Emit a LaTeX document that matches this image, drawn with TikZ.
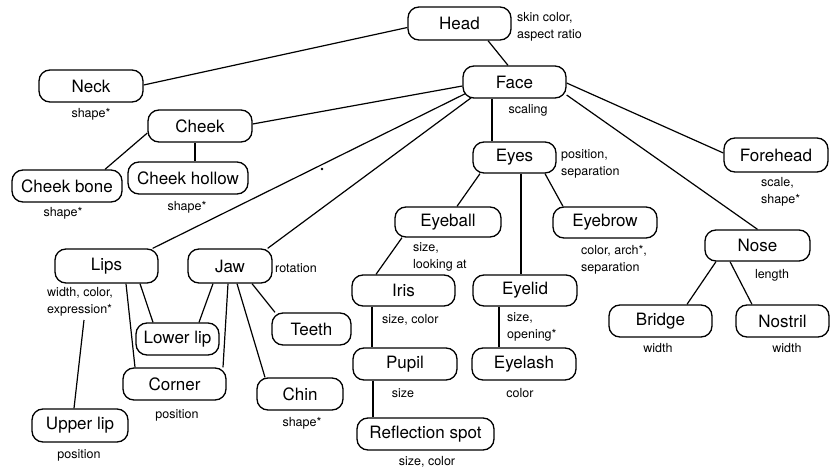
\documentclass[tikz,border=0pt]{standalone}
\usepackage{fontspec}
\setmainfont{TeX Gyre Heros}
\pgfdeclarelayer{bg}
\pgfsetlayers{bg,main}
\tikzset{
  box/.style={draw, fill=white, rounded corners=11pt, line width=1.3pt, inner sep=0pt,
    font=\fontsize{17}{20}\selectfont},
  lab/.style={inner sep=0pt, align=left, font=\fontsize{12.5}{17}\selectfont},
  conn/.style={line width=1.2pt}
}
\begin{document}
\begin{tikzpicture}[x=1pt,y=-1pt]
\useasboundingbox (0,0) rectangle (831,471);
% nodes
\node[box, minimum width=103pt, minimum height=33pt] (head) at (459.5,23.5) {Head};
\node[box, minimum width=103pt, minimum height=32pt] (face) at (514.5,82) {Face};
\node[box, minimum width=83pt, minimum height=31pt] (eyes) at (514.5,157.5) {Eyes};
\node[box, minimum width=104pt, minimum height=34pt] (forehead) at (776,155) {Forehead};
\node[box, minimum width=104pt, minimum height=32pt] (neck) at (91,86) {Neck};
\node[box, minimum width=104pt, minimum height=32pt] (cheek) at (200,126) {Cheek};
\node[box, minimum width=110pt, minimum height=32pt] (cheekbone) at (67,186) {Cheek bone};
\node[box, minimum width=120pt, minimum height=32pt] (cheekhollow) at (188,178) {Cheek hollow};
\node[box, minimum width=106pt, minimum height=30pt] (eyeball) at (448,222) {Eyeball};
\node[box, minimum width=104pt, minimum height=31pt] (eyebrow) at (605,222.5) {Eyebrow};
\node[box, minimum width=105pt, minimum height=31pt] (nose) at (757.5,245.5) {Nose};
\node[box, minimum width=103pt, minimum height=32pt] (bridge) at (660.5,321) {Bridge};
\node[box, minimum width=93pt, minimum height=32pt] (nostril) at (782.5,321) {Nostril};
\node[box, minimum width=103pt, minimum height=31pt] (iris) at (403.5,290.5) {Iris};
\node[box, minimum width=104pt, minimum height=32pt] (pupil) at (405,364) {Pupil};
\node[box, minimum width=137pt, minimum height=32pt] (reflection) at (425.5,434) {Reflection spot};
\node[box, minimum width=104pt, minimum height=31pt] (eyelid) at (525,290.5) {Eyelid};
\node[box, minimum width=104pt, minimum height=32pt] (eyelash) at (524,364) {Eyelash};
\node[box, minimum width=103pt, minimum height=34pt] (lips) at (106.5,266) {Lips};
\node[box, minimum width=84pt, minimum height=34pt] (jaw) at (230,266) {Jaw};
\node[box, minimum width=83pt, minimum height=32pt] (lowerlip) at (177.5,339) {Lower lip};
\node[box, minimum width=79pt, minimum height=32pt] (teeth) at (311.5,329) {Teeth};
\node[box, minimum width=103pt, minimum height=32pt] (corner) at (174.5,384) {Corner};
\node[box, minimum width=86pt, minimum height=32pt] (chin) at (300,394) {Chin};
\node[box, minimum width=96pt, minimum height=33pt] (upperlip) at (80,425.5) {Upper lip};
% labels
\node[lab, anchor=west] (headl) at (517,26.5) {skin color,\\aspect ratio};
\node[lab] (facel) at (528,110) {scaling};
\node[lab, anchor=west] (eyesl) at (561,163.5) {position,\\separation};
\node[lab, anchor=west] (foreheadl) at (761,191.5) {scale,\\shape*};
\node[lab, anchor=west] (eyeballl) at (413,257) {size,\\looking at};
\node[lab, anchor=west] (eyebrowl) at (581,260) {color, arch*,\\separation};
\node[lab] (nosel) at (772,275) {length};
\node[lab] (bridgel) at (658,348) {width};
\node[lab] (nostrill) at (787,348) {width};
\node[lab, anchor=west] (irisl) at (382,320) {size, color};
\node[lab, anchor=west] (eyelidl) at (507,326.5) {size,\\opening*};
\node[lab] (pupill) at (403,393) {size};
\node[lab] (eyelashl) at (520,393) {color};
\node[lab] (reflectionl) at (427,462) {size, color};
\node[lab] (neckl) at (91,114) {shape*};
\node[lab] (cheekbonel) at (63,213) {shape*};
\node[lab] (cheekhollowl) at (187,207) {shape*};
\node[lab, anchor=west] (lipsl) at (47,301.5) {width, color,\\expression*};
\node[lab, anchor=west] (jawl) at (275,268) {rotation};
\node[lab] (cornerl) at (177,415) {position};
\node[lab] (chinl) at (302,423) {shape*};
\node[lab] (upperlipl) at (79,455) {position};
\coordinate (ulstart) at (84,320);
\fill (322,169) circle (1.3pt);
% connectors
\begin{pgfonlayer}{bg}
\draw[conn] ([xshift=28.5pt]head.south) -- ([xshift=-6.5pt]face.north);
\draw[conn] ([yshift=-4pt]head.west) -- ([yshift=1pt]neck.east);
\draw[conn] ([yshift=-4pt]face.west) -- ([yshift=2pt]cheek.east);
\draw[conn] ([xshift=3pt,yshift=5pt]face.south west) -- ([xshift=-6pt]lips.north east);
\draw[conn] ([xshift=9pt,yshift=1pt]face.south west) -- ([xshift=-5pt]jaw.north east);
\draw[conn] ([xshift=-22.5pt]face.south) -- ([xshift=-22.5pt]eyes.north);
\draw[conn] ([yshift=-1pt]face.east) -- ([yshift=2pt]forehead.west);
\draw[conn] ([yshift=-13pt]face.east) -- (nose.north);
\draw[conn] ([yshift=-7pt]cheek.west) -- ([xshift=38pt]cheekbone.north);
\draw[conn] ([xshift=-5pt]cheek.south) -- ([xshift=7pt]cheekhollow.north);
\draw[conn] ([xshift=-34.5pt]eyes.south) -- ([xshift=9pt]eyeball.north);
\draw[conn] ([xshift=6.5pt]eyes.south) -- ([xshift=-4pt]eyelid.north);
\draw[conn] ([xshift=30.5pt]eyes.south) -- ([xshift=-42pt]eyebrow.north);
\draw[conn] ([xshift=-46pt]eyeball.south) -- ([xshift=-27.5pt]iris.north);
\draw[conn] ([xshift=-31.5pt]iris.south) -- ([xshift=-33pt]pupil.north);
\draw[conn] ([xshift=-32pt]pupil.south) -- ([xshift=-52.5pt]reflection.north);
\draw[conn] ([xshift=-26pt]eyelid.south) -- ([xshift=-25pt]eyelash.north);
\draw[conn] ([xshift=-41.5pt]nose.south) -- ([xshift=26.5pt]bridge.north);
\draw[conn] ([xshift=-27.5pt]nose.south) -- ([xshift=-30.5pt]nostril.north);
\draw[conn] ([xshift=33.5pt]lips.south) -- ([xshift=-24.5pt]lowerlip.north);
\draw[conn] ([xshift=19.5pt]lips.south) -- ([xshift=-39.5pt]corner.north);
\draw[conn] (ulstart) -- ([xshift=-6pt]upperlip.north);
\draw[conn] ([xshift=-17pt]jaw.south) -- ([xshift=21.5pt]lowerlip.north);
\draw[conn] ([xshift=-2pt]jaw.south) -- ([xshift=48.5pt]corner.north);
\draw[conn] ([xshift=7pt]jaw.south) -- ([xshift=-35pt]chin.north);
\draw[conn] ([xshift=22pt]jaw.south) -- ([xshift=-36.5pt]teeth.north);
\end{pgfonlayer}
\end{tikzpicture}
\end{document}
